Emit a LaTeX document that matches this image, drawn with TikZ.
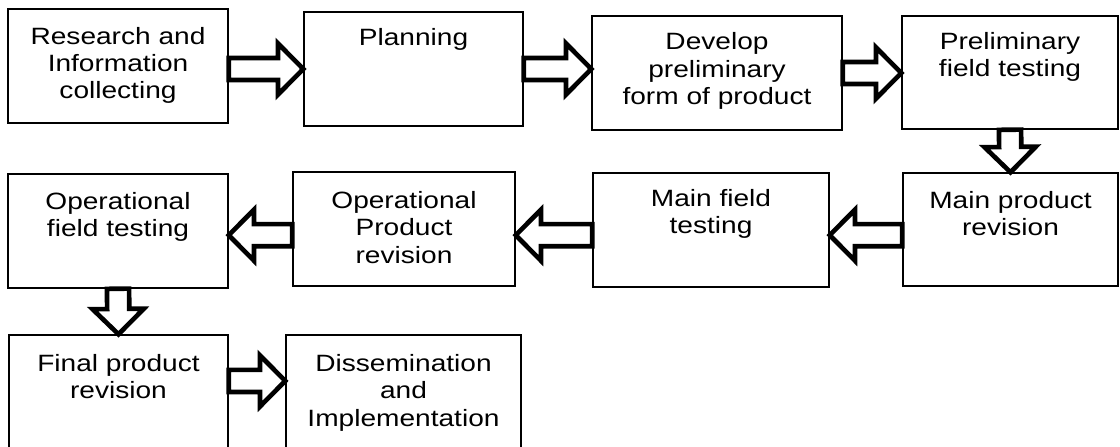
\documentclass[tikz,border=0pt]{standalone}
\usepackage{fontspec}
\setmainfont{Liberation Sans}[FakeStretch=1.19]
\usetikzlibrary{calc,positioning,fit}
\definecolor{ink}{HTML}{000000}
\newcommand{\stagefont}{\fontsize{17.7pt}{20.5pt}\selectfont}
\newcommand{\shaftw}{8.3pt}
\newcommand{\headw}{19.2pt}
\newcommand{\headlen}{19pt}
\tikzset{
  stage/.style={draw=ink,line width=1.1pt,fill=white,inner sep=0pt},
  stagetext/.style={font=\stagefont,align=center,inner sep=0pt},
  fatarrow/.style={draw=ink,fill=white,line width=3.5pt,line join=miter,
    to path={
      let \p1=($(\tikztotarget)!\headlen!(\tikztostart)$) in
      ($(\tikztostart)!\shaftw!90:(\tikztotarget)$)
      -- ($(\p1)!\shaftw!90:(\tikztotarget)$)
      -- ($(\p1)!\headw!90:(\tikztotarget)$)
      -- (\tikztotarget)
      -- ($(\p1)!\headw!-90:(\tikztotarget)$)
      -- ($(\p1)!\shaftw!-90:(\tikztotarget)$)
      -- ($(\tikztostart)!\shaftw!-90:(\tikztotarget)$)
      -- cycle}},
}

\begin{document}
\begin{tikzpicture}[x=0.75pt,y=-0.75pt]
  \useasboundingbox (0,0) rectangle (1120,446);
  \clip (0,0) rectangle (1120,446);
  \node[stage,fit={(8,9) (228,123)}] (r1) {};
  \node[stage,fit={(304,12) (523,126)}] (r2) {};
  \node[stage,fit={(592,16) (842,130)}] (r3) {};
  \node[stage,fit={(902,16) (1118,129)}] (r4) {};
  \node[stage,fit={(903,173) (1118,286)}] (r5) {};
  \node[stage,fit={(593,173) (829,287)}] (r6) {};
  \node[stage,fit={(293,172) (515,286)}] (r7) {};
  \node[stage,fit={(8,174) (228,288)}] (r8) {};
  \node[stage,fit={(9,335) (228,475)}] (r9) {};
  \node[stage,fit={(286,335) (521,475)}] (r10) {};
  \node[stagetext,below=14pt of r1.north] (t1) {Research and\\Information\\collecting};
  \node[stagetext,below=12.5pt of r2.north] (t2) {Planning};
  \node[stagetext,below=13pt of r3.north] (t3) {Develop\\preliminary\\form of product};
  \node[stagetext,below=12.5pt of r4.north] (t4) {Preliminary\\field testing};
  \node[stagetext,below=14pt of r5.north] (t5) {Main product\\revision};
  \node[stagetext,below=12.5pt of r6.north] (t6) {Main field\\testing};
  \node[stagetext,below=15pt of r7.north] (t7) {Operational\\Product\\revision};
  \node[stagetext,below=14pt of r8.north] (t8) {Operational\\field testing};
  \node[stagetext,below=15pt of r9.north] (t9) {Final product\\revision};
  \node[stagetext,below=15pt of r10.north] (t10) {Dissemination\\and\\Implementation};
  \draw[fatarrow] (r1.east |- r2.west) to (r2.west);
  \draw[fatarrow] (r2.east) to (r3.west |- r2.east);
  \draw[fatarrow] (r3.east) to (r4.west |- r3.east);
  \draw[fatarrow] (r4.south) to (r5.north);
  \draw[fatarrow] (r5.183) to (r6.east |- r5.183);
  \draw[fatarrow] (r6.west |- r5.183) to (r7.east |- r5.183);
  \draw[fatarrow] (r7.west |- r5.183) to (r8.east |- r5.183);
  \draw[fatarrow] (r8.south) to (r9.north);
  \draw[fatarrow] ([yshift=-35pt]r9.north east) to ([yshift=-35pt]r10.north west);
\end{tikzpicture}
\end{document}
